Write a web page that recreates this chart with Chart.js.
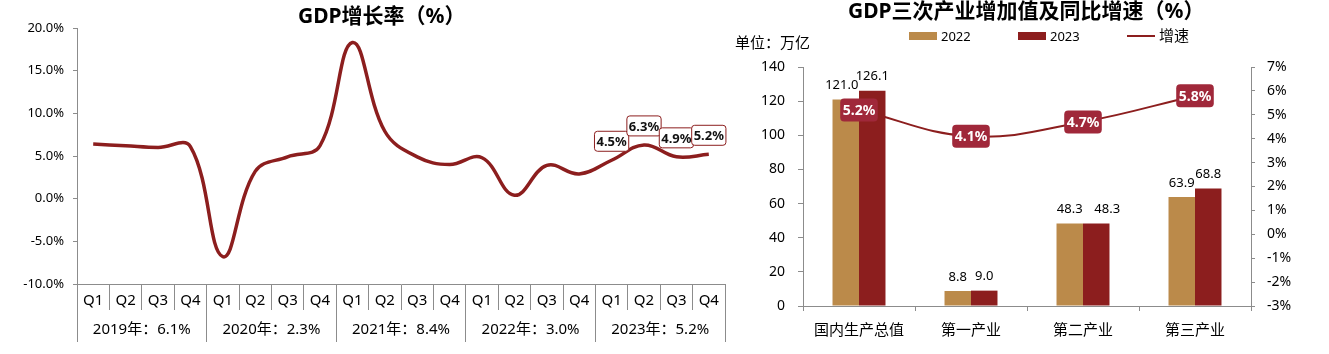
<!DOCTYPE html>
<html>
<head>
<meta charset="utf-8">
<script src="https://cdn.jsdelivr.net/npm/chart.js@4.4.1/dist/chart.umd.min.js"></script>
<style>
  html, body { margin: 0; padding: 0; background: #fff; overflow: hidden; width: 1329px; height: 354px; }
  #wrapL { position: absolute; left: 0; top: 0; width: 740px; height: 354px; }
  #wrapR { position: absolute; left: 730px; top: 0; width: 599px; height: 354px; }
</style>
</head>
<body>
<div id="wrapL"><canvas id="gdp"></canvas></div>
<div id="wrapR"><canvas id="sector"></canvas></div>
<script>
// left chart: quarterly GDP growth
const quarters = ['Q1', 'Q2', 'Q3', 'Q4', 'Q1', 'Q2', 'Q3', 'Q4', 'Q1', 'Q2', 'Q3', 'Q4',
                  'Q1', 'Q2', 'Q3', 'Q4', 'Q1', 'Q2', 'Q3', 'Q4'];
const yearLabels = ['2019年：6.1%', '2020年：2.3%', '2021年：8.4%', '2022年：3.0%', '2023年：5.2%'];
const gdpGrowth = [6.4, 6.2, 6.0, 6.1, -6.8, 3.2, 4.9, 6.2, 18.3, 7.9, 4.9, 4.0,
                   4.8, 0.4, 3.9, 2.9, 4.5, 6.3, 4.9, 5.2];
const labelFrom = 16; // only 2023 quarters carry value boxes

// right chart: value added by sector
const sectors = ['国内生产总值', '第一产业', '第二产业', '第三产业'];
const value2022 = [121.0, 8.8, 48.3, 63.9];
const value2023 = [126.1, 9.0, 48.3, 68.8];
const growthRate = [5.2, 4.1, 4.7, 5.8];

const FONT = '"Noto Sans", "Noto Sans CJK SC", sans-serif';
const RED = '#8C1E1E';
const TAN = '#BB8A4A';
const GRAY = '#8c8c8c';

// plain title text drawn at a fixed spot
const titleText = {
  id: 'titleText',
  afterDraw(chart, args, opts) {
    const ctx = chart.ctx;
    ctx.save();
    ctx.fillStyle = '#000';
    ctx.textAlign = 'left';
    ctx.textBaseline = 'middle';
    ctx.font = 'bold 21px ' + FONT;
    ctx.fillText(opts.text, opts.x, opts.y);
    ctx.restore();
  }
};

// white boxes with red border above the 2023 points
const outlinedLabels = {
  id: 'outlinedLabels',
  afterDatasetsDraw(chart) {
    const ctx = chart.ctx;
    const meta = chart.getDatasetMeta(0);
    const vals = chart.data.datasets[0].data;
    ctx.save();
    ctx.font = 'bold 13px ' + FONT;
    ctx.textAlign = 'center';
    ctx.textBaseline = 'middle';
    for (let i = labelFrom; i < vals.length; i++) {
      const p = meta.data[i];
      const txt = vals[i].toFixed(1) + '%';
      const w = ctx.measureText(txt).width + 4, h = 20;
      const cx = p.x, cy = p.y - 19;
      ctx.beginPath();
      ctx.roundRect(cx - w / 2, cy - h / 2, w, h, 3);
      ctx.fillStyle = '#fff';
      ctx.fill();
      ctx.strokeStyle = RED;
      ctx.lineWidth = 1;
      ctx.stroke();
      ctx.fillStyle = '#111';
      ctx.fillText(txt, cx, cy + 1);
    }
    ctx.restore();
  }
};

new Chart(document.getElementById('gdp'), {
  type: 'line',
  data: {
    labels: quarters,
    datasets: [{
      data: gdpGrowth,
      borderColor: RED,
      borderWidth: 3.5,
      tension: 0.4,
      pointRadius: 0,
      fill: false
    }]
  },
  options: {
    responsive: true,
    maintainAspectRatio: false,
    animation: false,
    layout: { padding: { left: 0, right: 15, top: 28, bottom: 12 } },
    plugins: {
      legend: { display: false },
      tooltip: { enabled: false },
      titleText: { text: 'GDP增长率（%）', x: 298, y: 17 }
    },
    scales: {
      x: {
        weight: 0,
        offset: true,
        grid: { offset: true, drawOnChartArea: false, tickLength: 26, color: GRAY },
        border: { color: GRAY },
        ticks: { autoSkip: false, maxRotation: 0, padding: -18, color: '#000', font: { family: FONT, size: 15 } },
        afterFit: s => { s.height = 26; }
      },
      year: {
        type: 'category',
        position: 'bottom',
        weight: 1,
        labels: yearLabels,
        offset: true,
        grid: { offset: true, drawOnChartArea: false, tickLength: 32, color: GRAY },
        border: { display: false },
        ticks: { autoSkip: false, maxRotation: 0, padding: -21, color: '#000', font: { family: FONT, size: 15 } },
        afterFit: s => { s.height = 32; }
      },
      y: {
        min: -10,
        max: 20,
        grid: { drawOnChartArea: false, tickLength: 4, color: GRAY },
        border: { color: GRAY },
        ticks: { stepSize: 5, padding: 9, color: '#000', font: { family: FONT, size: 13 },
                 callback: v => v.toFixed(1) + '%' },
        afterFit: s => { s.width = 77; }
      }
    }
  },
  plugins: [outlinedLabels, titleText]
});

// legend and unit note for the sector chart
const sectorHeader = {
  id: 'sectorHeader',
  afterDraw(chart) {
    const ctx = chart.ctx;
    ctx.save();
    ctx.fillStyle = '#000';
    ctx.textBaseline = 'middle';
    ctx.textAlign = 'left';
    ctx.font = '15px ' + FONT;
    ctx.fillText('单位：万亿', 5, 44);

    const legendX = [179, 288, 397];
    chart.data.datasets.forEach((ds, i) => {
      const x = legendX[i];
      if (ds.type === 'line') {
        ctx.strokeStyle = ds.borderColor;
        ctx.lineWidth = 2;
        ctx.beginPath();
        ctx.moveTo(x, 36);
        ctx.lineTo(x + 28, 36);
        ctx.stroke();
        ctx.font = '15px ' + FONT;
      } else {
        ctx.fillStyle = ds.backgroundColor;
        ctx.fillRect(x, 32, 28, 8);
        ctx.font = '13px ' + FONT;
      }
      ctx.fillStyle = '#000';
      ctx.fillText(ds.label, x + 32, 37);
    });
    ctx.restore();
  }
};

// numbers above bars and filled boxes on the growth line
const sectorLabels = {
  id: 'sectorLabels',
  afterDatasetsDraw(chart, args, opts) {
    const ctx = chart.ctx;
    ctx.save();
    ctx.textAlign = 'center';
    ctx.textBaseline = 'middle';
    chart.data.datasets.forEach((ds, di) => {
      const meta = chart.getDatasetMeta(di);
      meta.data.forEach((el, i) => {
        if (ds.type === 'bar') {
          const dx = opts.shift[di + '-' + i] || 0;
          ctx.font = '13px ' + FONT;
          ctx.fillStyle = '#000';
          ctx.fillText(ds.data[i].toFixed(1), el.x + dx, el.y - 14);
        } else {
          const txt = ds.data[i].toFixed(1) + '%';
          ctx.font = 'bold 14px ' + FONT;
          const w = ctx.measureText(txt).width + 5, h = 23;
          ctx.beginPath();
          ctx.roundRect(el.x - w / 2, el.y - h / 2, w, h, 4);
          ctx.fillStyle = '#A0283A';
          ctx.fill();
          ctx.fillStyle = '#fff';
          ctx.fillText(txt, el.x, el.y + 1);
        }
      });
    });
    ctx.restore();
  }
};

new Chart(document.getElementById('sector'), {
  data: {
    labels: sectors,
    datasets: [
      { type: 'bar', label: '2022', data: value2022, backgroundColor: TAN, yAxisID: 'y', order: 1,
        barPercentage: 1, categoryPercentage: 0.473 },
      { type: 'bar', label: '2023', data: value2023, backgroundColor: RED, yAxisID: 'y', order: 1,
        barPercentage: 1, categoryPercentage: 0.473 },
      { type: 'line', label: '增速', data: growthRate, borderColor: RED, borderWidth: 2, tension: 0.4,
        pointRadius: 0, fill: false, yAxisID: 'y1', order: 0 }
    ]
  },
  options: {
    responsive: true,
    maintainAspectRatio: false,
    animation: false,
    layout: { padding: { left: 0, right: 0, top: 67, bottom: 0 } },
    plugins: {
      legend: { display: false },
      tooltip: { enabled: false },
      titleText: { text: 'GDP三次产业增加值及同比增速（%）', x: 118, y: 12 },
      sectorLabels: { shift: { '0-0': -4, '1-2': 11 } }
    },
    scales: {
      x: {
        offset: true,
        grid: { offset: true, drawOnChartArea: false, tickLength: 5, color: GRAY },
        border: { color: GRAY },
        ticks: { padding: 11, color: '#000', font: { family: FONT, size: 15 }, maxRotation: 0 },
        afterFit: s => { s.height = 48; }
      },
      y: {
        position: 'left',
        min: 0,
        max: 140,
        grid: { drawOnChartArea: false, tickLength: 5, color: GRAY },
        border: { color: GRAY },
        ticks: { stepSize: 20, padding: 13, color: '#000', font: { family: FONT, size: 14 } },
        afterFit: s => { s.width = 73; }
      },
      y1: {
        position: 'right',
        min: -3,
        max: 7,
        grid: { drawOnChartArea: false, tickLength: 4, color: GRAY },
        border: { color: GRAY },
        ticks: { stepSize: 1, padding: 12, color: '#000', font: { family: FONT, size: 14 },
                 callback: v => v + '%' },
        afterFit: s => { s.width = 78; }
      }
    }
  },
  plugins: [sectorLabels, sectorHeader, titleText]
});
</script>
</body>
</html>
